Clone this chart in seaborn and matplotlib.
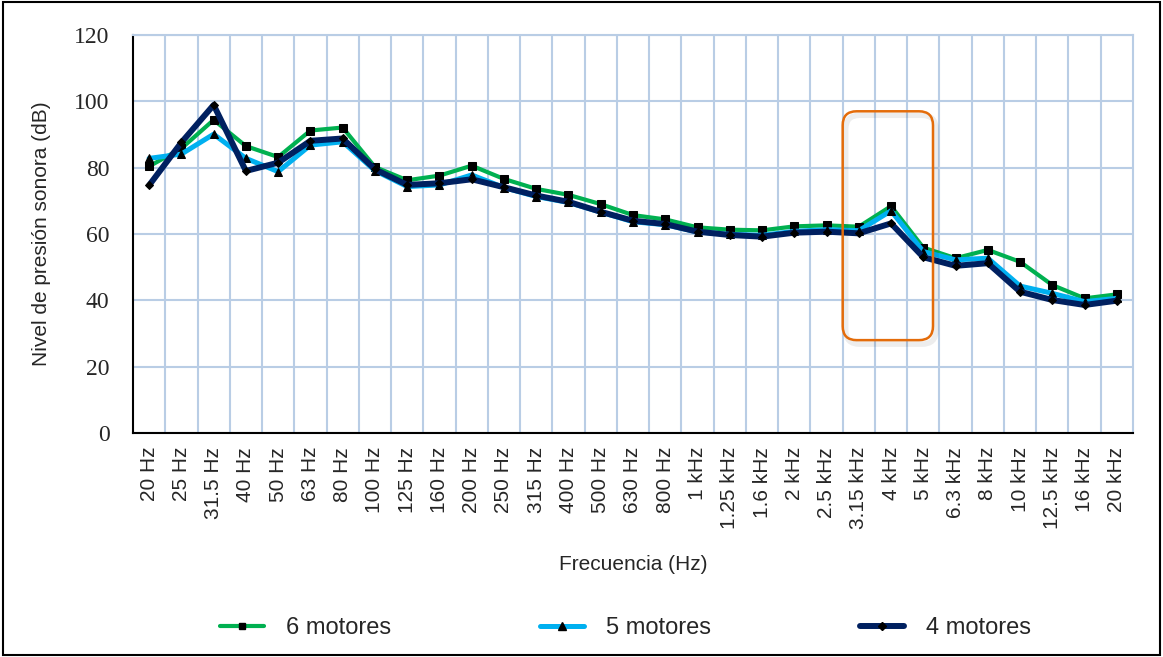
import numpy as np
import pandas as pd
import matplotlib
matplotlib.use("Agg")
import matplotlib.pyplot as plt
import seaborn as sns
from matplotlib.patches import FancyBboxPatch, Rectangle
from matplotlib.lines import Line2D
from matplotlib.transforms import IdentityTransform

# ---------------- data ----------------
frequencies = ["20 Hz", "25 Hz", "31.5 Hz", "40 Hz", "50 Hz", "63 Hz", "80 Hz",
               "100 Hz", "125 Hz", "160 Hz", "200 Hz", "250 Hz", "315 Hz", "400 Hz",
               "500 Hz", "630 Hz", "800 Hz", "1 kHz", "1.25 kHz", "1.6 kHz", "2 kHz",
               "2.5 kHz", "3.15 kHz", "4 kHz", "5 kHz", "6.3 kHz", "8 kHz", "10 kHz",
               "12.5 kHz", "16 kHz", "20 kHz"]

motores_6 = [80.4, 85.8, 94.4, 86.5, 83.2, 91.2, 92.1, 80.2, 76.2, 77.6, 80.6, 76.6,
             73.6, 71.8, 69.0, 65.7, 64.4, 62.0, 61.3, 61.1, 62.3, 62.6, 62.2, 68.4,
             55.9, 52.7, 55.2, 51.6, 44.6, 40.6, 41.8]
motores_5 = [82.8, 84.1, 90.1, 82.8, 78.8, 86.8, 87.8, 79.1, 74.3, 74.8, 77.8, 74.0,
             71.3, 69.5, 66.6, 63.7, 62.8, 60.6, 59.9, 59.6, 60.8, 61.3, 61.0, 67.0,
             54.7, 52.2, 52.7, 44.3, 42.1, 39.6, 40.6]
motores_4 = [74.7, 87.6, 98.9, 79.0, 81.5, 88.1, 88.8, 79.5, 74.8, 75.3, 76.5, 74.1,
             71.6, 69.7, 66.7, 64.0, 63.0, 60.7, 59.7, 59.2, 60.4, 60.7, 60.2, 63.2,
             53.0, 50.4, 51.2, 42.6, 40.1, 38.6, 39.9]

series_names = ["6 motores", "5 motores", "4 motores"]
series_values = [motores_6, motores_5, motores_4]
y_ticks = [0, 20, 40, 60, 80, 100, 120]

# ---------------- style ----------------
sns.set_theme(style="white")
plt.rcParams["font.family"] = ["Liberation Sans", "DejaVu Sans"]

colors = ["#00B050", "#00B0F0", "#002060"]
markers = ["s", "^", "D"]
msizes = [5.5, 6, 4]
lwidths = [3.0, 3.6, 4.3]
grid_color = "#B9CDE5"

fig = plt.figure(figsize=(11.63, 6.57), dpi=100)
ax = fig.add_axes([133 / 1163, 1 - 433 / 657, 1000 / 1163, 398 / 657])

x_pos = np.arange(len(frequencies))
for name, vals, c, m, ms, lw in zip(series_names, series_values, colors, markers, msizes, lwidths):
    df = pd.DataFrame({"x": x_pos, "y": vals})
    sns.lineplot(data=df, x="x", y="y", ax=ax, color=c, linewidth=lw, marker=m,
                 markersize=ms, markerfacecolor="black", markeredgecolor="black",
                 sort=False, label=name, legend=False, zorder=3)

ax.set_xlim(-0.5, len(frequencies) - 0.5)
ax.set_ylim(0, 120)
ax.set_yticks(y_ticks)
ax.set_xticks(x_pos)
ax.set_xticklabels(frequencies, rotation=90, fontsize=15, va="top", ha="center")
ax.set_xticks(x_pos[:-1] + 0.5, minor=True)
ax.set_yticklabels([str(v) for v in y_ticks], fontsize=17, family=["Liberation Serif", "DejaVu Serif"])
ax.tick_params(axis="x", which="both", length=0, pad=10)
ax.tick_params(axis="y", which="both", length=0, pad=17)

ax.grid(False)
ax.grid(True, axis="y", which="major", color=grid_color, linewidth=1.5, zorder=0)
ax.grid(True, axis="x", which="minor", color=grid_color, linewidth=1.5, zorder=0)
ax.set_axisbelow(True)

for s in ["left", "bottom"]:
    ax.spines[s].set_color("black")
    ax.spines[s].set_linewidth(1.5)
for s in ["top", "right"]:
    ax.spines[s].set_color(grid_color)
    ax.spines[s].set_linewidth(1.5)

ax.set_xlabel("Frecuencia (Hz)", fontsize=15)
ax.set_ylabel("Nivel de presión sonora (dB)", fontsize=15)
ax.xaxis.set_label_coords(0.5, -0.307)
ax.yaxis.set_label_coords(-0.082, 0.5)

# legend
handles = [Line2D([0], [0], color=c, linewidth=lw, marker=m, markersize=ms * 0.9,
                  markerfacecolor="black", markeredgecolor="black")
           for c, m, ms, lw in zip(colors, markers, msizes, lwidths)]
fig.legend(handles, series_names, loc="center", bbox_to_anchor=(0.538, 0.044), ncol=3,
           frameon=False, fontsize=17, handlelength=1.85, handletextpad=0.95,
           columnspacing=6.3)

# highlight box (annotation) around the 3.15 kHz - 4 kHz region
fig.canvas.draw()
(x0, y0) = ax.transData.transform((21.5, 28.0))
(x1, y1) = ax.transData.transform((24.3, 97.0))
shadow = FancyBboxPatch((x0 + 3, y0 - 4), x1 - x0, y1 - y0,
                        boxstyle="round,pad=0,rounding_size=14",
                        transform=IdentityTransform(), facecolor="none",
                        edgecolor="#000000", alpha=0.07, linewidth=4, zorder=4)
box = FancyBboxPatch((x0, y0), x1 - x0, y1 - y0,
                     boxstyle="round,pad=0,rounding_size=14",
                     transform=IdentityTransform(), facecolor="none",
                     edgecolor="#E46C0A", linewidth=1.8, zorder=5)
fig.patches.extend([shadow, box])

# figure border
fig.patches.append(Rectangle((0.003, 0.003), 0.994, 0.994, transform=fig.transFigure,
                             fill=False, edgecolor="black", linewidth=1.5, zorder=10))

fig.savefig("out.png", dpi=100)
